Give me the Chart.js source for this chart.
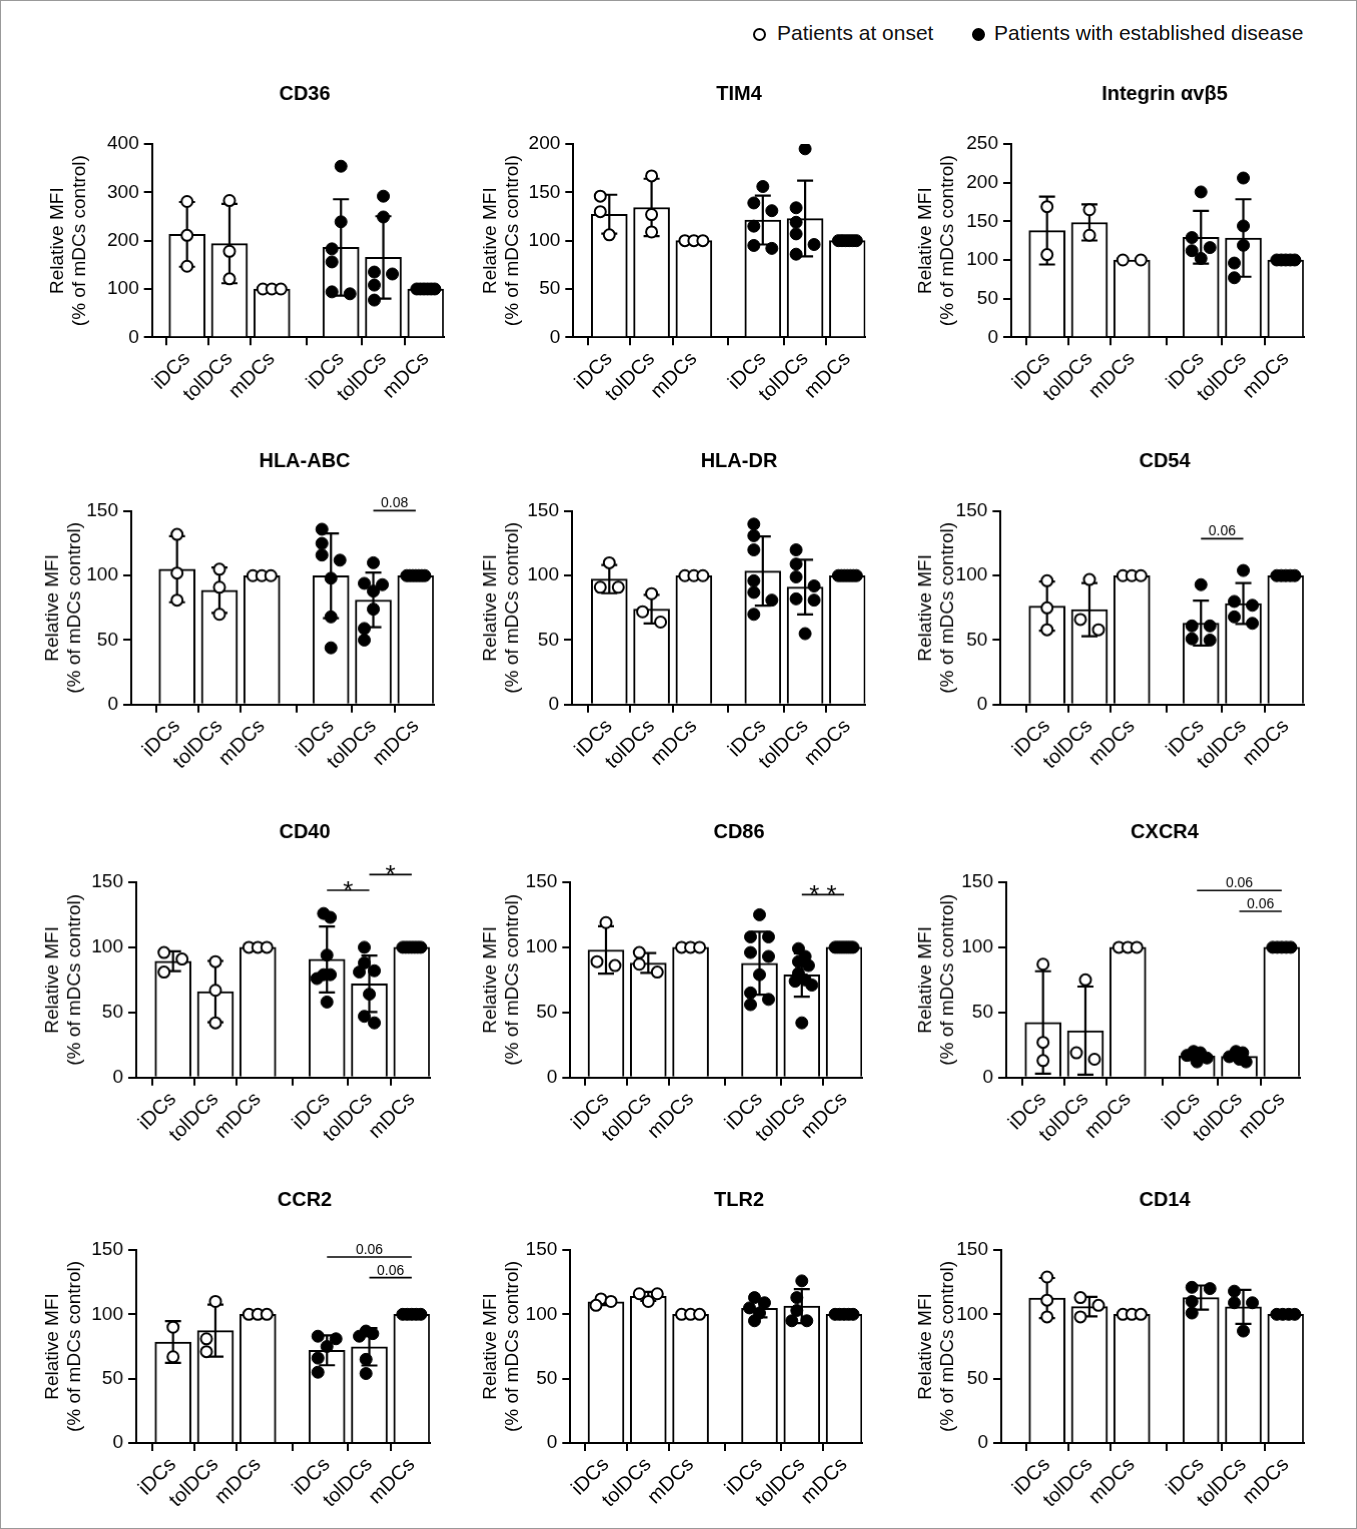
<!DOCTYPE html>
<html>
<head>
<meta charset="utf-8">
<script src="https://cdn.jsdelivr.net/npm/chart.js@4.4.1/dist/chart.umd.min.js"></script>
<style>
  body { margin: 0; background: #fff; }
  #page { position: relative; width: 1357px; height: 1529px; box-sizing: border-box; border: 1px solid #999; font-family: 'Liberation Sans', Arial, sans-serif; overflow: hidden; }
  .panel { position: absolute; }
  .leg { position: absolute; top: 20px; font-size: 21px; white-space: nowrap; color: #111; }
  .dot { position: absolute; width: 9px; height: 9px; border-radius: 50%; border: 2px solid #000; top: 27px; }
</style>
</head>
<body>
<div id="page">
  <div class="dot" style="left:752px;background:#fff"></div>
  <div class="leg" style="left:776px">Patients at onset</div>
  <div class="dot" style="left:971px;background:#000"></div>
  <div class="leg" style="left:993px">Patients with established disease</div>
</div>
<script>
// Etiquetas
const tickLabels = ['iDCs', 'tolDCs', 'mDCs', 'iDCs', 'tolDCs', 'mDCs'];
const panelTitles = ['CD36', 'TIM4', 'Integrin αvβ5', 'HLA-ABC', 'HLA-DR', 'CD54',
  'CD40', 'CD86', 'CXCR4', 'CCR2', 'TLR2', 'CD14'];
const yMaxes = [400, 200, 250, 150, 150, 150, 150, 150, 150, 150, 150, 150];
const ySteps = [100, 50, 50, 50, 50, 50, 50, 50, 50, 50, 50, 50];

// Valores individuales: [iDCs, tolDCs, mDCs]
const cd36Onset = [[281, 211, 147], [283, 178, 121], [100, 100, 100]];
const cd36Est = [[354, 239, 183, 156, 90, 94], [292, 249, 135, 131, 108, 77], [100, 100, 100, 100, 100, 100]];
const tim4Onset = [[146, 130, 106], [167, 127, 109], [100, 100, 100]];
const tim4Est = [[156, 139, 131, 115, 92, 95], [195, 134, 119, 107, 96, 86], [100, 100, 100, 100, 100, 100]];
const integrinOnset = [[169, 107], [165, 132], [100, 100]];
const integrinEst = [[188, 129, 116, 112, 102], [206, 144, 119, 96, 77], [100, 100, 100, 100, 100]];
const hlaAbcOnset = [[132, 102, 81], [105, 91, 70], [100, 100, 100]];
const hlaAbcEst = [[136, 125, 116, 112, 98, 68, 44], [110, 94, 93, 88, 74, 59, 50], [100, 100, 100, 100, 100, 100, 100]];
const hlaDrOnset = [[110, 91, 91], [86, 72, 64], [100, 100, 100]];
const hlaDrEst = [[140, 131, 120, 96, 87, 81, 70], [120, 109, 99, 92, 82, 81, 55], [100, 100, 100, 100, 100, 100, 100]];
const cd54Onset = [[96, 75, 58], [97, 66, 58], [100, 100, 100]];
const cd54Est = [[93, 61, 61, 51, 50], [104, 80, 77, 68, 63], [100, 100, 100, 100, 100]];
const cd40Onset = [[96, 91, 81], [89, 67, 42], [100, 100, 100]];
const cd40Est = [[126, 123, 94, 79, 79, 76, 58], [100, 88, 82, 81, 64, 47, 42], [100, 100, 100, 100, 100, 100, 100]];
const cd86Onset = [[119, 89, 86], [96, 87, 81], [100, 100, 100]];
const cd86Est = [[125, 108, 108, 96, 93, 79, 65, 60, 56], [99, 93, 89, 86, 80, 75, 74, 71, 42], [100, 100, 100, 100, 100, 100, 100, 100, 100]];
const cxcr4Onset = [[87, 27, 13], [75, 19, 14], [100, 100, 100]];
const cxcr4Est = [[20, 19, 17, 15, 12], [20, 19, 16, 14, 12], [100, 100, 100, 100, 100]];
const ccr2Onset = [[90, 67], [110, 81, 71], [100, 100, 100]];
const ccr2Est = [[83, 81, 75, 66, 55], [87, 85, 83, 65, 54], [100, 100, 100, 100, 100]];
const tlr2Onset = [[112, 110, 107], [116, 116, 110], [100, 100, 100]];
const tlr2Est = [[113, 109, 105, 101, 95], [126, 113, 103, 95, 95], [100, 100, 100, 100, 100]];
const cd14Onset = [[129, 111, 98], [113, 107, 98], [100, 100, 100]];
const cd14Est = [[121, 120, 110, 101], [118, 109, 109, 87], [100, 100, 100, 100]];

// Significancia: barras (0-5) y altura en unidades del eje
const hlaAbcSig = [{ a: 4, b: 5, y: 150.5, t: '0.08' }];
const cd54Sig = [{ a: 3, b: 4, y: 128.7, t: '0.06' }];
const cd40Sig = [{ a: 3, b: 4, y: 143.8, t: '*' }, { a: 4, b: 5, y: 155.9, t: '*' }];
const cd86Sig = [{ a: 4, b: 5, y: 140.5, t: '* *' }];
const cxcr4Sig = [{ a: 3, b: 5, y: 143.6, t: '0.06' }, { a: 4, b: 5, y: 127.7, t: '0.06' }];
const ccr2Sig = [{ a: 3, b: 5, y: 144.6, t: '0.06' }, { a: 4, b: 5, y: 128.5, t: '0.06' }];

const panels = [
  [cd36Onset, cd36Est, []], [tim4Onset, tim4Est, []], [integrinOnset, integrinEst, []],
  [hlaAbcOnset, hlaAbcEst, hlaAbcSig], [hlaDrOnset, hlaDrEst, []], [cd54Onset, cd54Est, cd54Sig],
  [cd40Onset, cd40Est, cd40Sig], [cd86Onset, cd86Est, cd86Sig], [cxcr4Onset, cxcr4Est, cxcr4Sig],
  [ccr2Onset, ccr2Est, ccr2Sig], [tlr2Onset, tlr2Est, []], [cd14Onset, cd14Est, []]
];

// Maquetación
const FONT = "'Liberation Sans', Arial, sans-serif";
const tickPos = [0, 1, 2, 3.63, 4.63, 5.63];
const PXU = 42.3;
const axisX = [150.7, 572.3, 1010, 130, 571, 999.3, 135, 569.3, 1005, 135, 569.3, 1000];
const tick0 = [185.7, 608.3, 1045.7, 175.7, 608.3, 1045.7, 171.7, 605, 1041.7, 171.7, 605, 1045.7];
const panelLeft = [42, 475, 910, 37, 475, 910, 37, 475, 910, 37, 475, 910];
const titleCx = [303, 738, 1163];
const plotTop = [142.7, 510, 881, 1249];
const plotH = [193.3, 192.7, 194.7, 193];
const PAD_TOP = 70, X_H = 80, PAD_R = 20;

const mean = a => a.reduce((s, v) => s + v, 0) / a.length;
const sd = a => {
  if (a.length < 2) return 0;
  const m = mean(a);
  return Math.sqrt(a.reduce((s, v) => s + (v - m) * (v - m), 0) / (a.length - 1));
};

// Dispersión horizontal de los puntos (tipo GraphPad)
function swarm(vals, pxPerUnit) {
  const S = 9, R = 11, C = 16, MAX = 10;
  if (vals.every(v => v === vals[0])) {
    const n = vals.length;
    return vals.map((v, i) => n > 1 ? -9 + 18 * i / (n - 1) : 0);
  }
  const off = new Array(vals.length).fill(0);
  const order = vals.map((v, i) => i).sort((a, b) => vals[b] - vals[a]);
  const placed = [];
  order.forEach(i => {
    const y = vals[i] * pxPerUnit;
    const crowded = vals.some((v, j) => j !== i && Math.abs(v - vals[i]) * pxPerUnit < C);
    const cands = crowded ? [-S, S, 0, -2 * S, 2 * S, -3 * S, 3 * S] : [0];
    let pick = cands.find(dx => placed.every(p => Math.hypot(p.dx - dx, p.y - y) >= R));
    if (pick === undefined) pick = cands[cands.length - 1];
    off[i] = pick;
    placed.push({ dx: pick, y });
  });
  const m = Math.max(...off.map(Math.abs));
  return m > MAX ? off.map(o => o * MAX / m) : off;
}

// Barras de error (media ± DE)
const errorBars = {
  id: 'errorBars',
  afterDatasetDraw(chart, args, opts) {
    if (args.index !== 0) return;
    const { ctx, scales: { x, y } } = chart;
    ctx.save();
    ctx.strokeStyle = '#000';
    ctx.lineWidth = 2.2;
    opts.means.forEach((m, g) => {
      const s = opts.sds[g];
      if (!s) return;
      const px = x.getPixelForValue(tickPos[g]);
      const top = y.getPixelForValue(m + s), bot = y.getPixelForValue(Math.max(m - s, 0));
      ctx.beginPath();
      ctx.moveTo(px, top); ctx.lineTo(px, bot);
      ctx.moveTo(px - 8, top); ctx.lineTo(px + 8, top);
      if (m - s > 0) { ctx.moveTo(px - 8, bot); ctx.lineTo(px + 8, bot); }
      ctx.stroke();
    });
    ctx.restore();
  }
};

// Título del panel y anotaciones
const panelText = {
  id: 'panelText',
  afterDraw(chart, args, opts) {
    const { ctx, chartArea, scales: { x, y } } = chart;
    ctx.save();
    ctx.fillStyle = '#000';
    ctx.textAlign = 'center';
    ctx.textBaseline = 'middle';
    ctx.font = "bold 20px 'Liberation Sans', Arial, sans-serif";
    ctx.fillText(opts.title, opts.titleX, chartArea.top - 50);
    ctx.strokeStyle = '#000';
    ctx.lineWidth = 1.6;
    opts.sig.forEach(s => {
      const x1 = x.getPixelForValue(tickPos[s.a]), x2 = x.getPixelForValue(tickPos[s.b]);
      const py = y.getPixelForValue(s.y);
      ctx.beginPath(); ctx.moveTo(x1, py); ctx.lineTo(x2, py); ctx.stroke();
      ctx.textBaseline = 'alphabetic';
      if (s.t.includes('*')) {
        ctx.font = "26px 'Liberation Sans', Arial, sans-serif";
        ctx.fillText(s.t, (x1 + x2) / 2, py + 9);
      } else {
        ctx.font = "14px 'Liberation Sans', Arial, sans-serif";
        ctx.fillText(s.t, (x1 + x2) / 2, py - 3);
      }
    });
    ctx.restore();
  }
};

const page = document.getElementById('page');

panels.forEach((p, idx) => {
  const col = idx % 3, row = Math.floor(idx / 3);
  const groups = p[0].concat(p[1]);
  const means = groups.map(mean);
  const sds = groups.map(sd);
  const yMax = yMaxes[idx];
  const h = plotH[row];
  const yPx = h / yMax;

  const left = panelLeft[idx];
  const wy = axisX[idx] - left;
  const lead = tick0[idx] - axisX[idx];
  const chartW = lead + 5.63 * PXU + 18;
  const xMin = -lead / PXU, xMax = 5.63 + 18 / PXU;

  const wrap = document.createElement('div');
  wrap.className = 'panel';
  wrap.style.left = left + 'px';
  wrap.style.top = (plotTop[row] - PAD_TOP) + 'px';
  wrap.style.width = (wy + chartW + PAD_R) + 'px';
  wrap.style.height = (PAD_TOP + h + X_H) + 'px';
  const canvas = document.createElement('canvas');
  wrap.appendChild(canvas);
  page.appendChild(wrap);

  const openDots = [], fullDots = [];
  groups.forEach((vals, g) => {
    const offs = swarm(vals, yPx);
    vals.forEach((v, k) => (g < 3 ? openDots : fullDots).push({ x: tickPos[g] + offs[k] / PXU, y: v }));
  });

  new Chart(canvas, {
    type: 'bar',
    data: {
      datasets: [
        { type: 'bar', data: means.map((m, g) => ({ x: tickPos[g], y: m })), backgroundColor: '#fff',
          borderColor: '#000', borderWidth: 2, barThickness: 36, order: 3 },
        { type: 'scatter', data: openDots, pointRadius: 5.5, pointBackgroundColor: '#fff',
          pointBorderColor: '#000', pointBorderWidth: 2, order: 1 },
        { type: 'scatter', data: fullDots, pointRadius: 6, pointBackgroundColor: '#000',
          pointBorderColor: '#000', pointBorderWidth: 1, order: 1 }
      ]
    },
    plugins: [errorBars, panelText],
    options: {
      responsive: true,
      maintainAspectRatio: false,
      animation: false,
      events: [],
      layout: { padding: { left: 0, right: PAD_R, top: PAD_TOP, bottom: 0 } },
      plugins: {
        legend: { display: false },
        tooltip: { enabled: false },
        errorBars: { means, sds },
        panelText: { title: panelTitles[idx], titleX: titleCx[col] - left, sig: p[2] }
      },
      scales: {
        x: {
          type: 'linear', min: xMin, max: xMax, offset: false,
          grid: { drawOnChartArea: false, drawTicks: true, tickLength: 8, color: '#000', lineWidth: 2 },
          border: { display: true, color: '#000', width: 2 },
          afterBuildTicks: s => { s.ticks = tickPos.map(v => ({ value: v })); },
          afterFit: s => { s.height = X_H; },
          ticks: { autoSkip: false, minRotation: 45, maxRotation: 45, padding: 2, color: '#000',
            font: { family: FONT, size: 20 }, callback: (v, i) => tickLabels[i] }
        },
        y: {
          min: 0, max: yMax,
          grid: { drawOnChartArea: false, drawTicks: true, tickLength: 8, color: '#000', lineWidth: 2 },
          border: { display: true, color: '#000', width: 2 },
          ticks: { stepSize: ySteps[idx], color: '#000', padding: 5, font: { family: FONT, size: 19 } },
          title: { display: true, text: ['Relative MFI', '(% of mDCs control)'], color: '#000',
            font: { family: FONT, size: 19, lineHeight: 1.15 }, padding: { top: 4, bottom: 0 } },
          afterFit: s => { s.width = wy; }
        }
      }
    }
  });
});
</script>
</body>
</html>
